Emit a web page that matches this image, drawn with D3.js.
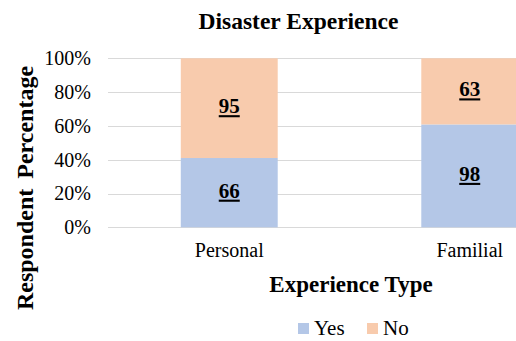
<!DOCTYPE html>
<html>
<head>
<meta charset="utf-8">
<script src="https://cdn.jsdelivr.net/npm/d3@7"></script>
<style>
  html, body { margin: 0; padding: 0; background: #fff; }
  svg { display: block; }
</style>
</head>
<body>
<svg id="chart" width="516" height="341"></svg>
<script>
// Disaster experience: respondent counts by experience type
const categories = ["Personal", "Familial"];
const seriesNames = ["Yes", "No"];
const yesCounts = [66, 98];
const noCounts = [95, 63];
const yTicks = [0, 0.2, 0.4, 0.6, 0.8, 1.0];
const colors = { Yes: "#b4c7e7", No: "#f8cbad" };

const SERIF = "Liberation Serif";

const rows = categories.map((c, i) => ({ category: c, Yes: yesCounts[i], No: noCounts[i] }));
// normalise each category to 100%
const normRows = rows.map(r => {
  const t = r.Yes + r.No;
  return { category: r.category, Yes: r.Yes / t, No: r.No / t, raw: r };
});
const stacked = d3.stack().keys(seriesNames)(normRows);

const svg = d3.select("#chart").attr("font-family", SERIF);

const x = d3.scaleBand()
  .domain(categories)
  .range([109, 590])
  .paddingInner(0.597)
  .paddingOuter(0.2985);

const y = d3.scaleLinear().domain([0, 1]).range([227.3, 58.3]);

// grid lines
svg.append("g")
  .selectAll("line")
  .data(yTicks)
  .join("line")
  .attr("x1", 108)
  .attr("x2", 516)
  .attr("y1", d => Math.round(y(d)) + 0.5)
  .attr("y2", d => Math.round(y(d)) + 0.5)
  .attr("stroke", "#d9d9d9")
  .attr("stroke-width", 1);

// y axis tick labels
const yAxis = d3.axisLeft(y)
  .tickValues(yTicks)
  .tickFormat(d3.format(".0%"))
  .tickSize(0)
  .tickPadding(0);
const gy = svg.append("g").attr("transform", "translate(91,0)").call(yAxis);
gy.attr("font-family", SERIF).attr("font-size", 20);
gy.select(".domain").remove();
gy.selectAll("text").attr("fill", "#000");

// stacked bars
const layers = svg.append("g")
  .selectAll("g")
  .data(stacked)
  .join("g")
  .attr("fill", d => colors[d.key]);

layers.selectAll("rect")
  .data(d => d.map(p => ({ key: d.key, p })))
  .join("rect")
  .attr("x", d => x(d.p.data.category))
  .attr("width", x.bandwidth())
  .attr("y", d => y(d.p[1]))
  .attr("height", d => y(d.p[0]) - y(d.p[1]));

// value labels (counts), bold and underlined
layers.selectAll("text")
  .data(d => d.map(p => ({ key: d.key, p })))
  .join("text")
  .attr("x", d => x(d.p.data.category) + x.bandwidth() / 2)
  .attr("y", d => (y(d.p[0]) + y(d.p[1])) / 2 + 5)
  .attr("text-anchor", "middle")
  .attr("font-family", SERIF)
  .attr("font-size", 21)
  .attr("font-weight", "bold")
  .attr("text-decoration", "underline")
  .attr("fill", "#000")
  .text(d => d.p.data.raw[d.key]);

// x axis category labels
const xAxis = d3.axisBottom(x).tickSize(0).tickPadding(0);
const gx = svg.append("g").attr("transform", "translate(0,243)").call(xAxis);
gx.attr("font-family", SERIF).attr("font-size", 20);
gx.select(".domain").remove();
gx.selectAll("text").attr("fill", "#000");

// title
svg.append("text")
  .attr("x", 298.5)
  .attr("y", 29)
  .attr("text-anchor", "middle")
  .attr("font-family", SERIF)
  .attr("font-size", 23.5)
  .attr("font-weight", "bold")
  .text("Disaster Experience");

// x axis title
svg.append("text")
  .attr("x", 351)
  .attr("y", 292)
  .attr("text-anchor", "middle")
  .attr("font-family", SERIF)
  .attr("font-size", 23)
  .attr("font-weight", "bold")
  .text("Experience Type");

// y axis title
svg.append("text")
  .attr("transform", "translate(33,188) rotate(-90)")
  .attr("text-anchor", "middle")
  .attr("font-family", SERIF)
  .attr("font-size", 24)
  .attr("font-weight", "bold")
  .attr("word-spacing", 4)
  .text("Respondent Percentage");

// legend
const legend = svg.append("g").attr("transform", "translate(298,335)");
const legendX = [0, 69];
const items = legend.selectAll("g")
  .data(seriesNames)
  .join("g")
  .attr("transform", (d, i) => `translate(${legendX[i]},0)`);
items.append("rect")
  .attr("x", 0)
  .attr("y", -12)
  .attr("width", 11)
  .attr("height", 11)
  .attr("fill", d => colors[d]);
items.append("text")
  .attr("x", 16)
  .attr("y", 0)
  .attr("font-family", SERIF)
  .attr("font-size", 21)
  .attr("fill", "#000")
  .text(d => d);
</script>
</body>
</html>
